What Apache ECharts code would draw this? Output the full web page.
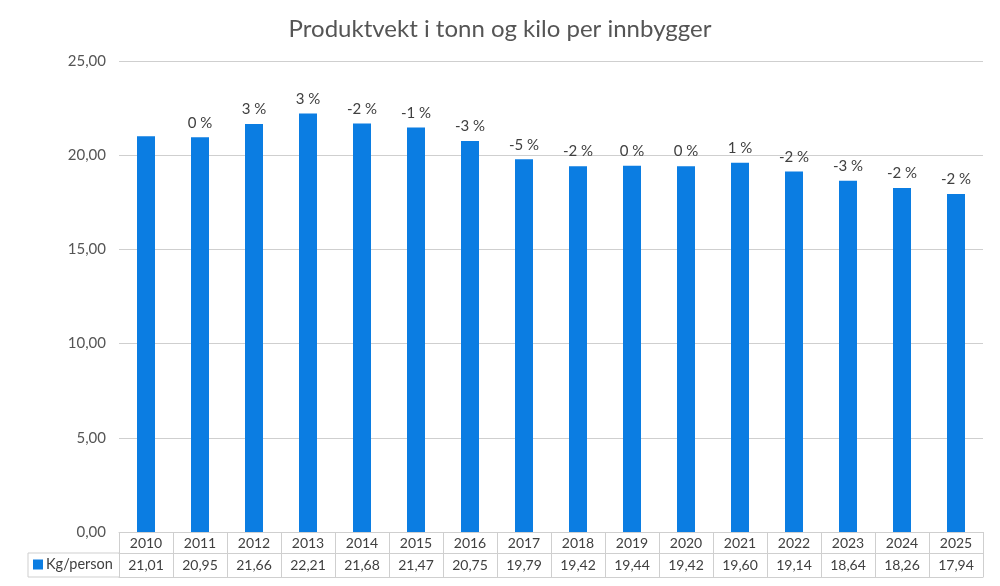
<!DOCTYPE html>
<html>
<head>
<meta charset="utf-8">
<script src="https://cdn.jsdelivr.net/npm/echarts@6/dist/echarts.min.js"></script>
<style>
  html, body { margin: 0; padding: 0; background: #fff; }
  #box { width: 1000px; height: 586px; }
</style>
</head>
<body>
<div id="box"></div>
<script>
var years = ['2010', '2011', '2012', '2013', '2014', '2015', '2016', '2017', '2018', '2019', '2020', '2021', '2022', '2023', '2024', '2025']
var kgPerPerson = [21.01, 20.95, 21.66, 22.21, 21.68, 21.47, 20.75, 19.79, 19.42, 19.44, 19.42, 19.60, 19.14, 18.64, 18.26, 17.94]
var changeLabels = ['', '0 %', '3 %', '3 %', '-2 %', '-1 %', '-3 %', '-5 %', '-2 %', '0 %', '0 %', '1 %', '-2 %', '-3 %', '-2 %', '-2 %']

var font = 'Lato'
var txt = '#404040'
var line = '#cfcfcf'
var blue = '#0B7DE2'

function comma (v) {
  return v.toFixed(2).replace('.', ',')
}

var chart = echarts.init(document.getElementById('box'))
chart.setOption({
  animation: false,
  textStyle: { fontFamily: font },
  title: {
    text: 'Produktvekt i tonn og kilo per innbygger',
    left: 'center',
    top: 12,
    textStyle: { fontFamily: font, fontSize: 24, fontWeight: 'normal', color: '#555' }
  },
  legend: {
    data: ['Kg/person'],
    left: 33,
    top: 557,
    padding: 0,
    icon: 'rect',
    itemWidth: 10,
    itemHeight: 10,
    itemGap: 4,
    textStyle: { fontFamily: font, fontSize: 14.5, color: txt, padding: [0, 0, 0, -2] }
  },
  grid: { left: 119, right: 17, top: 61, bottom: 54 },
  xAxis: [
    {
      type: 'category',
      data: years,
      axisLine: { show: true, onZero: false, lineStyle: { color: line } },
      axisTick: { show: true, length: 45, lineStyle: { color: line } },
      axisLabel: { margin: 4, fontSize: 14, color: txt }
    },
    {
      type: 'category',
      data: kgPerPerson.map(comma),
      position: 'bottom',
      offset: 21,
      axisLine: { show: true, onZero: false, lineStyle: { color: line } },
      axisTick: { show: false },
      axisLabel: { margin: 5, fontSize: 14, color: txt }
    },
    {
      type: 'category',
      data: years,
      position: 'bottom',
      offset: 45,
      axisLine: { show: true, onZero: false, lineStyle: { color: line } },
      axisTick: { show: false },
      axisLabel: { show: false }
    }
  ],
  yAxis: {
    type: 'value',
    min: 0,
    max: 25,
    interval: 5,
    axisLine: { show: false },
    axisTick: { show: false },
    splitLine: { lineStyle: { color: line } },
    axisLabel: { margin: 13, fontSize: 15, color: '#555', formatter: comma }
  },
  graphic: [
    // legend cell of the data table
    { type: 'line', shape: { x1: 28, y1: 553, x2: 119, y2: 553 }, style: { stroke: line, lineWidth: 1 } },
    { type: 'line', shape: { x1: 28, y1: 577, x2: 119, y2: 577 }, style: { stroke: line, lineWidth: 1 } },
    { type: 'line', shape: { x1: 28, y1: 553, x2: 28, y2: 577 }, style: { stroke: line, lineWidth: 1 } }
  ],
  series: [
    {
      name: 'Kg/person',
      type: 'bar',
      data: kgPerPerson,
      barWidth: 18,
      itemStyle: { color: blue },
      label: {
        show: true,
        position: 'top',
        distance: 7,
        fontSize: 15,
        color: txt,
        formatter: function (p) { return changeLabels[p.dataIndex] }
      }
    }
  ]
})
</script>
</body>
</html>
